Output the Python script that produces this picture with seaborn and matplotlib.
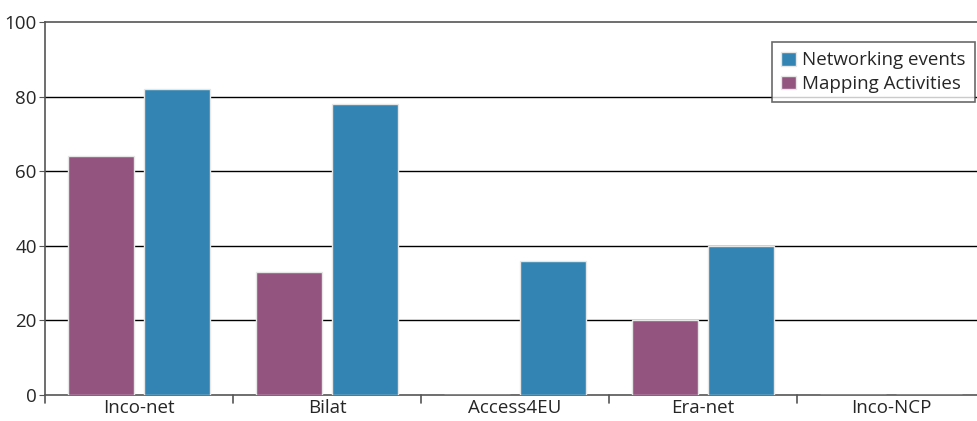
import matplotlib
matplotlib.use("Agg")
import matplotlib.pyplot as plt
import pandas as pd
import seaborn as sns

programmes = ['Inco-net', 'Bilat', 'Access4EU', 'Era-net', 'Inco-NCP']
mapping = [64, 33, 0, 20, 0]
networking = [82, 78, 36, 40, 0]
series = ['Mapping Activities', 'Networking events']
colours = {'Mapping Activities': '#93557f', 'Networking events': '#3384b3'}

df = pd.DataFrame({
    'programme': programmes * 2,
    'series': [series[0]] * len(programmes) + [series[1]] * len(programmes),
    'value': mapping + networking,
})

sns.set_style('white')
plt.rcParams['font.family'] = ['Open Sans', 'DejaVu Sans']
fs = 13.5

fig = plt.figure(figsize=(9.78, 4.21), dpi=100)
ax = fig.add_axes([45 / 978, (421 - 395) / 421, 933 / 978, 373 / 421])

sns.barplot(data=df, x='programme', y='value', hue='series', hue_order=series,
            palette=colours, saturation=1, order=programmes, width=0.8, gap=0.12,
            edgecolor='#e6e6e6', linewidth=1, ax=ax, zorder=3)

ax.set_ylim(0, 100)
ax.set_xlim(-0.5, 4.5 - 7 / 188)
ax.set_yticks([0, 20, 40, 60, 80, 100])
for y in [20, 40, 60, 80]:
    ax.axhline(y, color='black', lw=1, zorder=1)

ax.set_xlabel('')
ax.set_ylabel('')
ax.set_xticks(range(len(programmes)))
ax.set_xticklabels(programmes, fontsize=fs)
ax.tick_params(axis='x', length=0, pad=3)
ax.tick_params(axis='y', labelsize=fs, length=4, pad=2, direction='out',
               color='#555555', left=True)
for x in [-0.5, 0.5, 1.5, 2.5, 3.5]:
    ax.plot([x, x], [0, -2.2], color='#555555', lw=1.2, clip_on=False, zorder=4)

for side in ['left', 'top', 'bottom']:
    ax.spines[side].set_color('#555555')
    ax.spines[side].set_linewidth(1.2)
ax.spines['right'].set_visible(False)
ax.spines['bottom'].set_zorder(2)

handles, labels = ax.get_legend_handles_labels()
leg = ax.legend(handles[::-1], labels[::-1], loc='upper right',
                bbox_to_anchor=(1.0 - 3 / 933, 1 - 20 / 373), fontsize=fs,
                frameon=True, fancybox=False, edgecolor='#444444',
                handlelength=0.75, handleheight=0.75, handletextpad=0.35,
                labelspacing=0.3, borderpad=0.5, borderaxespad=0)
leg.get_frame().set_linewidth(1.2)
leg.set_zorder(5)

fig.savefig('out.png', dpi=100)
